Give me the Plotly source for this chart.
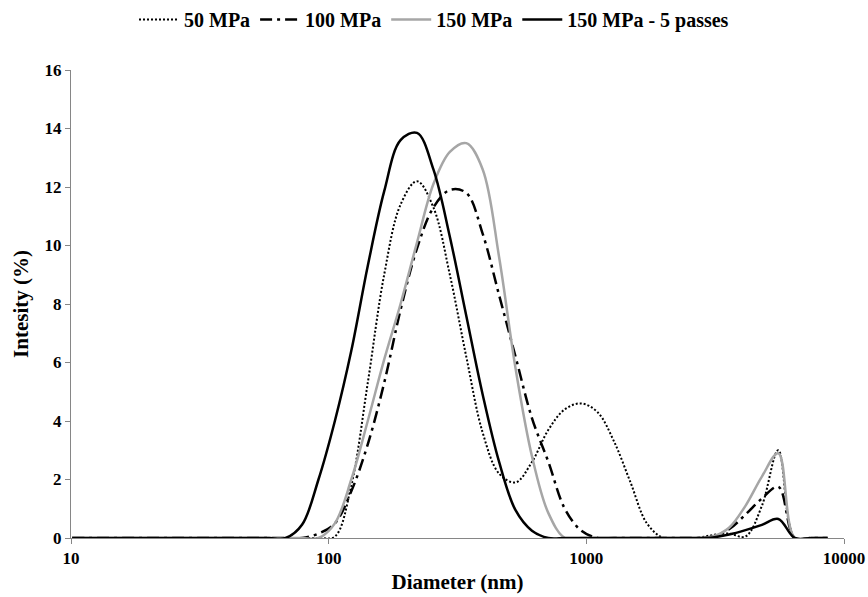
import plotly.graph_objects as go

# Diameter bins (nm)
diameter = [10.1, 11.7, 13.5, 15.7, 18.2, 21.0, 24.4, 28.2, 32.7, 37.8, 43.8, 50.7,
            58.8, 68.1, 78.8, 91.3, 105.7, 122.4, 141.8, 164.2, 190.1, 220.2, 255.0,
            295.3, 342.0, 396.1, 458.7, 531.2, 615.1, 712.4, 825.0, 955.4, 1106, 1281,
            1484, 1718, 1990, 2305, 2669, 3091, 3580, 4145, 4801, 5560, 6439, 7456, 8635]

zeros14 = [0] * 14  # 10.1 .. 68.1 nm

mpa50 = zeros14 + [0, 0, 0.05, 1.8, 5.3, 9.0, 11.4, 12.2, 11.3, 9.0, 6.2, 3.6, 2.2, 1.9,
                   2.6, 3.7, 4.4, 4.6, 4.3, 3.3, 1.9, 0.5, 0.0, 0, 0, 0.1, 0.15, 0.05,
                   1.1, 3.0, 0, 0, 0]
mpa100 = zeros14 + [0, 0.15, 0.5, 1.6, 3.2, 5.3, 7.8, 9.9, 11.3, 11.9, 11.8, 10.4, 8.3,
                    6.2, 4.1, 2.6, 1.0, 0.25, 0.0, 0, 0, 0, 0, 0, 0, 0.05, 0.3, 0.8,
                    1.35, 1.75, 0, 0, 0]
mpa150 = zeros14 + [0, 0, 0.5, 2.0, 4.0, 6.1, 8.0, 10.1, 12.1, 13.2, 13.5, 12.6, 9.6,
                    5.8, 2.8, 0.85, 0, 0, 0, 0, 0, 0, 0, 0, 0, 0.05, 0.35, 1.1,
                    2.1, 2.9, 0, 0, 0]
mpa150_5 = zeros14 + [0.45, 2.0, 4.0, 6.4, 9.3, 11.85, 13.6, 13.85, 12.6, 10.3, 7.6,
                      4.9, 2.6, 0.95, 0.25, 0, 0, 0, 0, 0, 0, 0, 0, 0, 0, 0.02, 0.12,
                      0.27, 0.45, 0.65, 0, 0, 0]

names = ["50 MPa", "100 MPa", "150 MPa", "150 MPa - 5 passes"]
x_ticks = [10, 100, 1000, 10000]
x_ticklabels = ["10", "100", "1000", "10000"]
y_ticks = [0, 2, 4, 6, 8, 10, 12, 14, 16]

FONT = "Liberation Serif"

fig = go.Figure()
styles = [
    dict(color="black", width=2, dash="2px,2px"),
    dict(color="black", width=2.5, dash="12px,5px,3px,5px"),
    dict(color="#a6a6a6", width=2.5, dash="solid"),
    dict(color="black", width=2.5, dash="solid"),
]
for name, ys, st in zip(names, [mpa50, mpa100, mpa150, mpa150_5], styles):
    fig.add_trace(go.Scatter(
        x=diameter, y=ys, mode="lines", name=name,
        line=dict(color=st["color"], width=st["width"], dash=st["dash"],
                  shape="spline", smoothing=1.0),
    ))

fig.update_layout(
    width=868, height=597,
    margin=dict(l=71, r=24, t=70, b=59),
    paper_bgcolor="white", plot_bgcolor="white",
    font=dict(family=FONT, size=17, color="black"),
    showlegend=True,
    legend=dict(orientation="h", xref="container", yref="container",
                x=0.5, xanchor="center", y=1.0, yanchor="top",
                font=dict(family=FONT, size=20, color="black", weight="bold"),
                itemwidth=40, tracegroupgap=0, bgcolor="rgba(0,0,0,0)"),
)
fig.update_xaxes(
    type="log", range=[1, 4], tickvals=x_ticks, ticktext=x_ticklabels,
    automargin=False,
    showgrid=False, zeroline=False, showline=True, linecolor="#868686", linewidth=1,
    ticks="outside", ticklen=5, tickcolor="#868686",
    tickfont=dict(family=FONT, size=17, color="black", weight="bold"),
    title=dict(text="Diameter (nm)", font=dict(family=FONT, size=21, color="black", weight="bold"), standoff=6),
)
fig.update_yaxes(
    range=[0, 16], tickvals=y_ticks, automargin=False,
    showgrid=False, zeroline=False, showline=True, linecolor="#868686", linewidth=1,
    ticks="outside", ticklen=5, tickcolor="#868686",
    tickfont=dict(family=FONT, size=17, color="black", weight="bold"),
    title=dict(text="Intesity (%)", font=dict(family=FONT, size=21, color="black", weight="bold"), standoff=10),
)

fig.write_html("out.html")
